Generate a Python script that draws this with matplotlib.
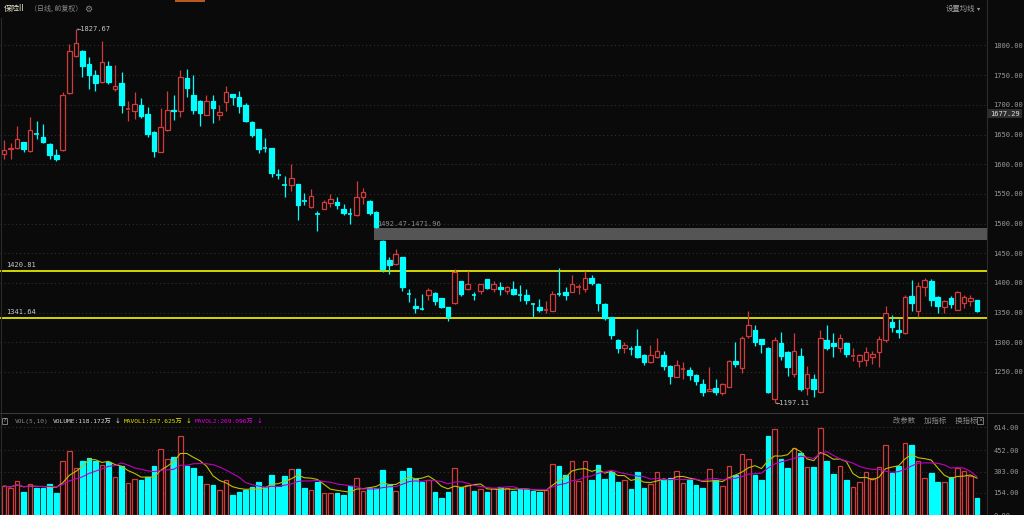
import matplotlib
matplotlib.use("Agg")
import matplotlib.pyplot as plt
from matplotlib.patches import Rectangle
import pandas as pd

plt.rcParams['font.family'] = ['DejaVu Sans Mono', 'Noto Sans CJK SC']

W, H = 1024, 515
BG = '#0a0a0a'
UP = '#d03c3c'
DN = '#00ffff'
GRID = '#303030'
TXT = '#9a9a9a'

# daily candles, oldest first
opens = [1617, 1625, 1627, 1637, 1622, 1652, 1646, 1634, 1615, 1624,
         1720, 1783, 1791, 1768, 1751, 1738, 1765, 1727, 1737, 1692,
         1690, 1700, 1685, 1655, 1621, 1657, 1692, 1690, 1746, 1717,
         1706, 1683, 1706, 1683.5, 1704, 1718, 1713, 1699, 1671, 1659,
         1627, 1627, 1583, 1566, 1565, 1566, 1539, 1528, 1516, 1525,
         1535, 1537, 1525, 1516, 1514, 1545, 1538, 1520, 1471, 1439,
         1432, 1443, 1382, 1362, 1357, 1379, 1383, 1374, 1359, 1366,
         1403, 1389, 1380, 1387, 1407, 1390, 1394, 1387, 1390, 1380,
         1379, 1365, 1360, 1354, 1353, 1382, 1384, 1385, 1393, 1390,
         1408, 1399, 1365, 1342, 1304, 1291, 1290, 1294, 1278, 1266,
         1276, 1278, 1260, 1242, 1255, 1253, 1245, 1229, 1218.5, 1223,
         1214, 1225, 1268, 1256, 1311, 1321, 1305, 1291, 1204, 1299,
         1284, 1246, 1277, 1223, 1238, 1216, 1304, 1299, 1290, 1299,
         1276, 1269, 1271, 1275, 1283, 1304, 1335, 1321, 1315, 1378,
         1353, 1393, 1403, 1377, 1359, 1374, 1355, 1366, 1369.5, 1371]
highs = [1641, 1636, 1665, 1638, 1680, 1673, 1668, 1635, 1625, 1722,
         1802, 1827.67, 1793, 1781, 1759, 1807, 1774, 1767, 1756, 1706,
         1722, 1711, 1696, 1656, 1694, 1723, 1717, 1758, 1760, 1751,
         1708, 1716, 1717, 1699, 1732, 1719, 1723, 1703, 1672, 1660,
         1645, 1628, 1592, 1580, 1600, 1567, 1551, 1559, 1521, 1540,
         1549, 1545, 1533, 1526, 1571, 1560, 1539, 1521, 1471.96, 1444,
         1457, 1444, 1389, 1374, 1382, 1391, 1384, 1375, 1360, 1423,
         1404, 1420, 1384, 1399, 1407, 1404, 1402, 1395, 1404, 1396,
         1390, 1366, 1373, 1370, 1386, 1425, 1393, 1414, 1398, 1420,
         1414, 1400, 1366, 1343, 1305, 1300, 1294, 1322, 1281, 1295,
         1307, 1286, 1261, 1270, 1267, 1259, 1246, 1239, 1258, 1238,
         1231, 1271, 1300, 1311, 1352, 1329, 1306, 1292, 1309, 1318,
         1285, 1316, 1290, 1260, 1247, 1321, 1329, 1315, 1314, 1300,
         1290, 1281, 1292, 1286, 1311, 1361, 1346, 1340, 1380, 1405,
         1402, 1409, 1406, 1378, 1372, 1378, 1387, 1379, 1380, 1372]
lows = [1608, 1608, 1626, 1621, 1621, 1642, 1635, 1608, 1606, 1623,
        1719, 1780, 1747, 1727, 1724, 1737, 1735, 1724, 1687, 1673,
        1676, 1678, 1646, 1612, 1620, 1656, 1674, 1680, 1714, 1685,
        1665, 1683, 1670, 1674.5, 1690, 1699, 1687, 1671, 1646, 1619,
        1621, 1579, 1575, 1545, 1555, 1506, 1531, 1527, 1488, 1524,
        1528, 1525, 1514, 1500, 1513, 1533, 1514, 1492.47, 1418, 1415,
        1431, 1387, 1368, 1350, 1354, 1372, 1363, 1357, 1336, 1365,
        1378, 1388, 1372, 1382, 1389, 1385, 1380, 1381, 1380, 1370,
        1364, 1342, 1351, 1349, 1352, 1378, 1372, 1384, 1382, 1385,
        1397, 1352, 1337, 1306, 1282, 1282, 1279, 1274, 1262, 1265,
        1273, 1253, 1230, 1241, 1239, 1236, 1228, 1209, 1218, 1211,
        1212, 1224, 1258, 1249, 1307, 1294, 1282, 1214, 1197.11, 1270,
        1244, 1241, 1218, 1211, 1208, 1215, 1287, 1275, 1284, 1276,
        1269, 1258, 1260, 1263, 1259, 1301, 1318, 1307, 1314, 1353,
        1343, 1378, 1362, 1349, 1349, 1357, 1354, 1357, 1361, 1351]
closes = [1624, 1627, 1642, 1626, 1658, 1651, 1637, 1616, 1609, 1717,
          1790, 1804, 1765, 1751, 1736, 1773, 1738, 1731, 1699, 1693,
          1701, 1682, 1651, 1622, 1662, 1692, 1690, 1747, 1729, 1691,
          1687, 1706, 1695, 1688, 1722, 1714, 1698, 1673, 1649, 1625,
          1626, 1586, 1582, 1565, 1577, 1531, 1538, 1546, 1515, 1536,
          1541, 1531, 1517, 1515, 1545, 1553, 1517, 1494, 1423, 1430,
          1449, 1394, 1381, 1358, 1356, 1388, 1370, 1360, 1342, 1418,
          1381, 1398, 1379, 1398, 1391, 1399, 1389, 1393, 1382, 1379,
          1371, 1364, 1354, 1355, 1382, 1381, 1380, 1398, 1394, 1409,
          1400, 1367, 1341, 1312, 1290, 1296, 1289, 1275, 1267, 1278,
          1285, 1260, 1243, 1261, 1256, 1245, 1234, 1217, 1221, 1217,
          1229, 1269, 1263, 1307, 1329, 1301, 1297, 1216, 1304, 1277,
          1258, 1285, 1221, 1246, 1221, 1307, 1290, 1294, 1308, 1281,
          1277, 1279, 1284, 1280, 1305, 1349, 1326, 1317, 1376, 1367,
          1395, 1405, 1372, 1362, 1369, 1364, 1385, 1376, 1375, 1352]
# volume in 万
volumes = [202, 191, 237, 161, 219, 191, 191, 214, 152, 380,
           450, 330, 380, 399, 376, 353, 371, 267, 341, 223,
           253, 242, 267, 343, 461, 392, 406, 551, 343, 327,
           274, 219, 210, 177, 246, 138, 159, 177, 193, 233,
           193, 283, 193, 274, 323, 323, 191, 177, 230, 152,
           152, 152, 143, 200, 260, 168, 186, 186, 318, 210,
           168, 309, 330, 249, 233, 244, 161, 117, 159, 330,
           196, 210, 168, 180, 159, 188, 193, 191, 168, 180,
           180, 166, 161, 175, 360, 343, 283, 380, 237, 380,
           246, 353, 249, 304, 228, 246, 182, 302, 191, 214,
           302, 253, 260, 311, 223, 242, 207, 191, 323, 242,
           205, 343, 283, 427, 394, 279, 242, 551, 600, 390,
           327, 468, 436, 337, 334, 611, 380, 290, 343, 246,
           193, 233, 302, 256, 337, 491, 293, 343, 503, 487,
           376, 262, 293, 231, 230, 266, 327, 307, 270, 118.172]
# readout shown in the volume header
last_volume = 118.172
last_mavol1 = 257.625
last_mavol2 = 269.096

price_ticks = [1250, 1300, 1350, 1400, 1450, 1500, 1550, 1600, 1650, 1700, 1750, 1800]
vol_ticks = [154, 303, 452, 614]
support_lines = [1420.81, 1341.64]
gap_top, gap_bottom = 1492.47, 1471.96
cursor_price = 1677.29

fig = plt.figure(figsize=(W / 100, H / 100), dpi=100, facecolor=BG)


def px_axes(x0, y0, x1, y1):
    a = fig.add_axes([x0 / W, 1 - y1 / H, (x1 - x0) / W, (y1 - y0) / H])
    a.set_facecolor(BG)
    for s in a.spines.values():
        s.set_visible(False)
    return a


ax = px_axes(0, 18, 987, 412)
axv = px_axes(0, 425, 987, 515)

n = len(closes)
xlim = (-0.61, 150.54)
bw = 0.7

# price panel
for lv in price_ticks:
    ax.axhline(lv, color=GRID, lw=0.8, ls=(0, (1, 2.5)), zorder=0)

ax.add_patch(Rectangle((56.7, gap_bottom), xlim[1] - 56.7, gap_top - gap_bottom,
                       facecolor='#555555', edgecolor='none', zorder=1))
ax.text(57.1, gap_top + 2, f'{gap_top:.2f}-{gap_bottom:.2f}', color='#8a8a8a',
        fontsize=5, va='bottom', ha='left', zorder=4)

for lv in support_lines:
    ax.axhline(lv, color='#e6e600', lw=1.3, zorder=2)
    ax.text(0.3, lv + 4, f'{lv:.2f}', color='#c8c8c8', fontsize=5, va='bottom', ha='left')

for i in range(n):
    o, h, l, c = opens[i], highs[i], lows[i], closes[i]
    up = c >= o
    col = UP if up else DN
    lo_b, hi_b = min(o, c), max(o, c)
    if up:
        ax.vlines(i, hi_b, h, color=col, lw=0.9, zorder=3)
        ax.vlines(i, l, lo_b, color=col, lw=0.9, zorder=3)
    else:
        ax.vlines(i, l, h, color=col, lw=0.9, zorder=3)
    if hi_b - lo_b < 1.2:
        ax.hlines((o + c) / 2, i - bw / 2, i + bw / 2, color=col, lw=1.2, zorder=3)
    else:
        ax.add_patch(Rectangle((i - bw / 2, lo_b), bw, hi_b - lo_b,
                               facecolor=BG if up else col, edgecolor=col,
                               lw=0.9, zorder=3))

hi_i = highs.index(max(highs))
lo_i = lows.index(min(lows))
ax.text(hi_i + 0.2, max(highs), f'\u2190{max(highs):.2f}', color='#c8c8c8',
        fontsize=5, va='center', ha='left')
ax.text(lo_i + 0.2, min(lows), f'\u2190{min(lows):.2f}', color='#c8c8c8',
        fontsize=5, va='center', ha='left')

ax.set_xlim(*xlim)
ax.set_ylim(1182.6, 1846.3)
ax.set_xticks([])
ax.yaxis.tick_right()
ax.set_yticks(price_ticks)
ax.set_yticklabels([f'{v:.2f}' for v in price_ticks])
ax.tick_params(axis='y', length=0, pad=4.5, labelsize=5, labelcolor=TXT)

# volume panel
vol = pd.Series(volumes)
ma5 = vol.rolling(5, min_periods=1).mean()
ma10 = vol.rolling(10, min_periods=1).mean()

for lv in vol_ticks:
    axv.axhline(lv, color=GRID, lw=0.8, ls=(0, (1, 2.5)), zorder=0)

for i in range(n):
    up = closes[i] >= opens[i]
    col = UP if up else DN
    axv.bar(i, volumes[i], width=bw, bottom=0, facecolor=BG if up else col,
            edgecolor=col, lw=0.9, zorder=2)
axv.plot(range(n), ma5, color='#c0c000', lw=0.8, zorder=3)
axv.plot(range(n), ma10, color='#c000c0', lw=0.8, zorder=3)

axv.set_xlim(*xlim)
axv.set_ylim(6.2, 629.8)
axv.set_xticks([])
axv.yaxis.tick_right()
axv.set_yticks([0] + vol_ticks)
axv.set_yticklabels([f'{v:.2f}' for v in [0] + vol_ticks])
axv.tick_params(axis='y', length=0, pad=4.5, labelsize=5, labelcolor=TXT)

# frame lines
fig.add_artist(plt.Line2D([987 / W, 987 / W], [0, 1], color='#2c2c2c', lw=0.8))
fig.add_artist(plt.Line2D([0, 1], [1 - 412.5 / H, 1 - 412.5 / H], color='#3a3a3a', lw=0.8))
fig.add_artist(plt.Line2D([1 / W, 1 / W], [0, 1 - 18 / H], color='#2a2a2a', lw=0.8))
fig.add_artist(Rectangle((175 / W, 1 - 2 / H), 30 / W, 2 / H, transform=fig.transFigure,
                         facecolor='#b85a20', edgecolor='none'))


def ftext(x, y, s, **kw):
    fig.text(x / W, 1 - y / H, s, va='center', **kw)


# header
ftext(4, 9, '保险II', color='#e8e2cc', fontsize=5.8, family='Noto Sans CJK SC')
ftext(30, 9, '（日线, 前复权）', color='#8c8c8c', fontsize=5.0, family='Noto Sans CJK SC')
ftext(84, 9, '\u2699', color='#8c8c8c', fontsize=6.5, family='DejaVu Sans')
ftext(946, 9, '设置均线', color='#a0a0a0', fontsize=5.3, family='Noto Sans CJK SC')
ftext(977, 9, '\u25be', color='#a0a0a0', fontsize=4.5, family='DejaVu Sans')

# cursor price tag
ftext(1005, 113.5, f'{cursor_price:.2f}', color='#e0e0e0', fontsize=5, ha='center',
      bbox=dict(boxstyle='square,pad=0.25', facecolor='#2e2e2e', edgecolor='none'))

# volume header
ftext(2.5, 421, '?', color='#b0b0b0', fontsize=4.6,
      bbox=dict(boxstyle='square,pad=0.15', facecolor=BG, edgecolor='#8a8a8a', lw=0.6))
ftext(15, 421, 'VOL(5,10)', color='#8c8c8c', fontsize=4.5)
ftext(53, 421, f'VOLUME:{last_volume:.3f}万', color='#d8d8d8', fontsize=4.5)
ftext(115, 421, '\u2193', color='#d8d8d8', fontsize=5, family='DejaVu Sans')
ftext(124, 421, f'MAVOL1:{last_mavol1:.3f}万', color='#e0e000', fontsize=4.5)
ftext(186, 421, '\u2193', color='#e0e000', fontsize=5, family='DejaVu Sans')
ftext(195, 421, f'MAVOL2:{last_mavol2:.3f}万', color='#e000e0', fontsize=4.5)
ftext(257, 421, '\u2193', color='#e000e0', fontsize=5, family='DejaVu Sans')
ftext(893, 420.5, '改参数  加指标  换指标', color='#8c8c8c', fontsize=5.3)
ftext(978, 420.5, '\u00d7', color='#8c8c8c', fontsize=5,
      bbox=dict(boxstyle='square,pad=0.1', facecolor=BG, edgecolor='#8a8a8a', lw=0.6))

fig.savefig('out.png', dpi=100, facecolor=BG)
